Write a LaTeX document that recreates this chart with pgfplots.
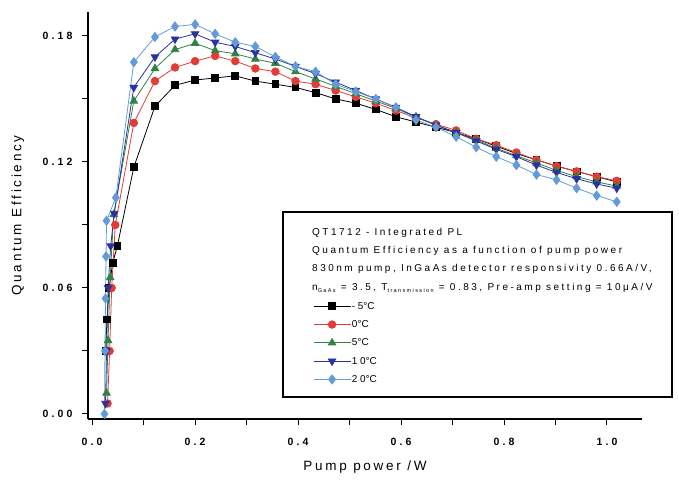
\documentclass[border=0pt]{standalone}
\usepackage{fontspec}
\setmainfont{Liberation Sans}
\newfontfamily\tickfont[LetterSpace=30]{Liberation Sans}
\newfontfamily\legfont[LetterSpace=25]{Liberation Sans}
\newfontfamily\labfont[LetterSpace=20]{Liberation Sans}
\usepackage{pgfplots}
\pgfplotsset{compat=1.18}
\definecolor{cred}{RGB}{225,60,55}
\definecolor{cgreen}{RGB}{50,130,70}
\definecolor{cnavy}{RGB}{40,50,160}
\definecolor{clight}{RGB}{100,155,215}
\begin{document}
\begin{tikzpicture}
\begin{axis}[
  scale only axis, width=554pt, height=407pt,
  xmin=-0.008, xmax=1.068, ymin=-0.0024, ymax=0.1914,
  axis x line*=bottom, axis y line*=left,
  axis line style={line width=1.2pt,-},
  xtick={0,0.2,0.4,0.6,0.8,1.0}, minor xtick={0.1,0.3,0.5,0.7,0.9},
  xticklabels={0.0,0.2,0.4,0.6,0.8,1.0},
  ytick={0,0.06,0.12,0.18}, minor ytick={0.03,0.09,0.15},
  yticklabels={0.00,0.06,0.12,0.18},
  tick align=outside, major tick length=6pt, minor tick length=6pt,
  tick style={line width=1pt,black},
  ticklabel style={font=\tickfont\bfseries\fontsize{10.5}{12}\selectfont},
  xticklabel style={yshift=-10pt},
  yticklabel style={xshift=-6pt},
  xlabel={Pump power /W},
  ylabel={Quantum Efficiency},
  label style={font=\labfont\fontsize{13.5}{15}\selectfont},
  xlabel style={at={(axis description cs:0.5,0)}, anchor=center, yshift=-48pt},
  ylabel style={at={(axis description cs:0,0.5)}, anchor=center, yshift=70pt},
  clip=false,
  every axis plot/.append style={line width=0.8pt},
  legend image code/.code={\draw[mark repeat=2,mark phase=2,#1] plot coordinates {(0pt,0pt) (18.5pt,0pt) (37pt,0pt)};},
  legend style={at={(axis description cs:0.4061,0.2911)}, anchor=north west,
    draw=none, fill=none, inner sep=0pt, row sep=7.3pt,
    font=\legfont\fontsize{10}{12}\selectfont,
    nodes={inner sep=1pt, text height=7.5pt, text depth=1.5pt}},
  legend cell align=left,
]
\addplot[black, mark=square*, mark size=3.4pt, mark options={fill=black}] coordinates {
(0.026,0.030)(0.029,0.045)(0.033,0.060)(0.040,0.072)(0.049,0.080)(0.081,0.1175)(0.122,0.1465)(0.161,0.1565)(0.200,0.159)(0.239,0.160)(0.278,0.161)(0.317,0.1585)(0.356,0.157)(0.395,0.1555)(0.434,0.153)(0.473,0.150)(0.512,0.148)(0.551,0.145)(0.590,0.1415)(0.629,0.139)(0.668,0.1365)(0.707,0.134)(0.746,0.131)(0.785,0.1275)(0.824,0.124)(0.863,0.121)(0.902,0.118)(0.941,0.1155)(0.980,0.113)(1.019,0.1105)};
\addlegendentry{-5{\fontspec{Liberation Sans}\textdegree C}}
\addplot[cred, mark=*, mark size=3.8pt, mark options={fill=cred}] coordinates {
(0.030,0.005)(0.034,0.030)(0.038,0.060)(0.045,0.090)(0.081,0.1386)(0.122,0.1585)(0.161,0.165)(0.200,0.168)(0.239,0.1705)(0.278,0.168)(0.317,0.1645)(0.356,0.163)(0.395,0.1585)(0.434,0.157)(0.473,0.154)(0.512,0.151)(0.551,0.148)(0.590,0.1445)(0.629,0.141)(0.668,0.138)(0.707,0.135)(0.746,0.131)(0.785,0.128)(0.824,0.1245)(0.863,0.121)(0.902,0.118)(0.941,0.1155)(0.980,0.113)(1.019,0.111)};
\addlegendentry{0{\fontspec{Liberation Sans}\textdegree C}}
\addplot[cgreen, mark=triangle*, mark size=4.3pt, mark options={fill=cgreen}] coordinates {
(0.028,0.010)(0.031,0.035)(0.035,0.065)(0.042,0.095)(0.081,0.149)(0.122,0.1645)(0.161,0.1735)(0.200,0.1765)(0.239,0.173)(0.278,0.1715)(0.317,0.169)(0.356,0.167)(0.395,0.163)(0.434,0.1595)(0.473,0.156)(0.512,0.1525)(0.551,0.149)(0.590,0.1455)(0.629,0.1415)(0.668,0.1375)(0.707,0.134)(0.746,0.1305)(0.785,0.1265)(0.824,0.123)(0.863,0.1195)(0.902,0.116)(0.941,0.113)(0.980,0.1105)(1.019,0.1085)};
\addlegendentry{5{\fontspec{Liberation Sans}\textdegree C}}
\addplot[cnavy, mark=triangle*, mark size=4.3pt, mark options={fill=cnavy, rotate=180}] coordinates {
(0.026,0.005)(0.028,0.030)(0.031,0.060)(0.036,0.080)(0.043,0.0955)(0.081,0.1555)(0.122,0.170)(0.161,0.1785)(0.200,0.181)(0.239,0.177)(0.278,0.175)(0.317,0.172)(0.356,0.169)(0.395,0.1655)(0.434,0.162)(0.473,0.158)(0.512,0.154)(0.551,0.150)(0.590,0.146)(0.629,0.1415)(0.668,0.1375)(0.707,0.134)(0.746,0.130)(0.785,0.126)(0.824,0.1225)(0.863,0.1185)(0.902,0.115)(0.941,0.112)(0.980,0.1095)(1.019,0.1075)};
\addlegendentry{10{\fontspec{Liberation Sans}\textdegree C}}
\addplot[clight, mark=diamond*, mark size=4.6pt, mark options={fill=clight}] coordinates {
(0.024,0.000)(0.025,0.030)(0.026,0.055)(0.027,0.075)(0.028,0.092)(0.046,0.103)(0.081,0.1675)(0.122,0.1795)(0.161,0.1845)(0.200,0.1855)(0.239,0.181)(0.278,0.177)(0.317,0.175)(0.356,0.170)(0.395,0.1655)(0.434,0.163)(0.473,0.157)(0.512,0.1535)(0.551,0.150)(0.590,0.146)(0.629,0.140)(0.668,0.1365)(0.707,0.132)(0.746,0.127)(0.785,0.1225)(0.824,0.1185)(0.863,0.114)(0.902,0.1115)(0.941,0.1075)(0.980,0.104)(1.019,0.101)};
\addlegendentry{20{\fontspec{Liberation Sans}\textdegree C}}
\end{axis}
\draw[line width=1.1pt] ([shift={(195pt,22pt)}]current axis.south west) rectangle ([shift={(584pt,207pt)}]current axis.south west);
\begin{scope}[every node/.style={anchor=base west, inner sep=0pt, font=\legfont\fontsize{10}{12}\selectfont}]
\node at ([shift={(224pt,183.4pt)}]current axis.south west) {QT1712 - Integrated PL};
\node at ([shift={(224pt,165.4pt)}]current axis.south west) {Quantum Efficiency as a function of pump power};
\node at ([shift={(224pt,147.4pt)}]current axis.south west) {830nm pump, InGaAs detector responsivity 0.66A/V,};
\node at ([shift={(224pt,128.4pt)}]current axis.south west) {n\raisebox{-2pt}{\fontsize{5.5}{6}\selectfont GaAs} = 3.5, T\raisebox{-2pt}{\fontsize{5.5}{6}\selectfont transmission} = 0.83, Pre-amp setting = 10μA/V};
\end{scope}
\path ([shift={(-88pt,-64pt)}]current axis.south west) rectangle ++(679pt,483pt);
\end{tikzpicture}
\end{document}
